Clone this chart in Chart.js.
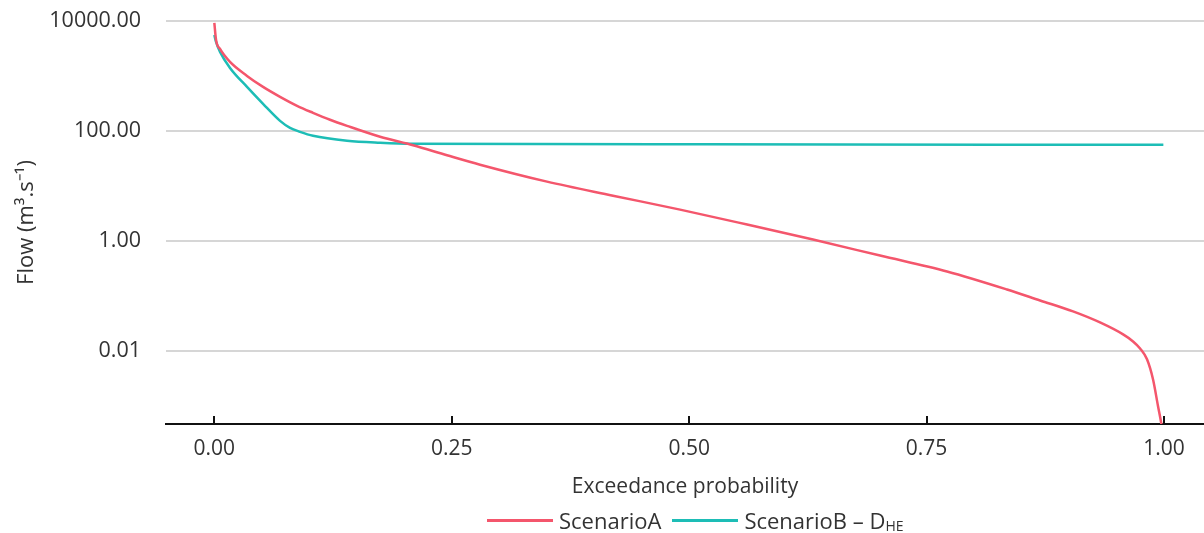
<!DOCTYPE html>
<html>
<head>
<meta charset="utf-8">
<title>Flow duration</title>
<script src="https://cdn.jsdelivr.net/npm/chart.js@4.4.1/dist/chart.umd.min.js"></script>
<style>
  body { margin: 0; background: #fff; }
  #wrap { position: relative; width: 1204px; height: 533px; overflow: hidden; }
  #legend {
    position: absolute; left: 487px; top: 504px; height: 32px;
    display: flex; align-items: center;
    font-family: "Open Sans", sans-serif; font-size: 22px; color: #333;
  }
  #legend .item { display: flex; align-items: center; margin-right: 11px; }
  #legend .swatch { width: 66px; height: 3px; margin-right: 6px; }
  #legend sub { font-size: 14px; line-height: 1; vertical-align: -2px; }
</style>
</head>
<body>
<div id="wrap">
  <canvas id="flowChart" width="1204" height="533"></canvas>
  <div id="legend"></div>
</div>
<script>
// exceedance curves
const probA = [0, 0.0018, 0.006, 0.0165, 0.0344, 0.0513, 0.0692, 0.0871, 0.1039, 0.1218, 0.1397, 0.1745,
  0.2092, 0.245, 0.2798, 0.3503, 0.4198, 0.4904, 0.561, 0.6304, 0.701, 0.7715, 0.8347, 0.8695,
  0.9042, 0.9326, 0.9569, 0.9674, 0.9748, 0.9821, 0.9884, 0.9937, 0.9969, 0.999];
const flowA = [9200, 4520, 3100, 1800, 1005, 634, 418, 287, 214, 160, 124, 78.5,
  55.0, 36.2, 24.4, 12.0, 6.67, 3.72, 1.99, 1.06, 0.543, 0.279, 0.131, 0.0828,
  0.0524, 0.033, 0.02, 0.0149, 0.0111, 0.00705, 0.00305, 0.00099, 0.000506, 0.0003];

const probB = [0, 0.0018, 0.006, 0.0165, 0.0344, 0.0513, 0.0692, 0.0797, 0.0902, 0.1039, 0.1397, 0.1745,
  0.2092, 0.5113, 0.8273, 0.9993];
const flowB = [5570, 4160, 2740, 1400, 634, 312, 153, 114, 96.6, 81.8, 66.4, 61.1,
  58.6, 57.4, 56.2, 56.2];

const seriesNames = ['ScenarioA', 'ScenarioB – D<sub>HE</sub>'];
const seriesColors = ['#f4566c', '#1dbdb6'];

const yTicks = [0.01, 1, 100, 10000];
const xTicks = [0, 0.25, 0.5, 0.75, 1];

const font = "'Open Sans', sans-serif";
const textColor = '#333';

// small tick marks pointing up into the plot
const innerTicks = {
  id: 'innerTicks',
  afterDraw(chart) {
    const x = chart.scales.x;
    const ctx = chart.ctx;
    ctx.save();
    ctx.strokeStyle = '#111';
    ctx.lineWidth = 2;
    xTicks.forEach(v => {
      const px = Math.round(x.getPixelForValue(v));
      ctx.beginPath();
      ctx.moveTo(px, chart.chartArea.bottom);
      ctx.lineTo(px, chart.chartArea.bottom - 8);
      ctx.stroke();
    });
    ctx.restore();
  }
};

const chart = new Chart(document.getElementById('flowChart'), {
  type: 'line',
  data: {
    datasets: [{
      label: 'ScenarioA',
      data: probA.map((p, i) => ({ x: p, y: flowA[i] })),
      borderColor: seriesColors[0],
      borderWidth: 2.5,
      pointRadius: 0,
      cubicInterpolationMode: 'monotone'
    }, {
      label: 'ScenarioB',
      data: probB.map((p, i) => ({ x: p, y: flowB[i] })),
      borderColor: seriesColors[1],
      borderWidth: 2.5,
      pointRadius: 0,
      cubicInterpolationMode: 'monotone'
    }]
  },
  options: {
    responsive: false,
    animation: false,
    layout: { padding: { top: 21, right: 0, bottom: 33, left: 0 } },
    plugins: { legend: { display: false }, tooltip: { enabled: false } },
    scales: {
      x: {
        type: 'linear',
        min: -0.0509,
        max: 1.0421,
        afterFit: s => { s.height = 76; s.paddingLeft = 0; s.paddingRight = 0; },
        afterBuildTicks: s => { s.ticks = xTicks.map(v => ({ value: v })); },
        grid: { display: false, drawTicks: false },
        border: { display: true, color: '#111', width: 2 },
        ticks: {
          padding: 12,
          color: textColor,
          font: { family: font, size: 21 },
          callback: v => Number(v).toFixed(2)
        },
        title: {
          display: true,
          text: 'Exceedance probability',
          color: textColor,
          font: { family: font, size: 21 },
          padding: { top: 0, bottom: 0 }
        }
      },
      y: {
        type: 'logarithmic',
        min: 0.00047,
        max: 10000,
        afterFit: s => { s.width = 166; s.paddingTop = 0; s.paddingBottom = 0; },
        afterBuildTicks: s => { s.ticks = yTicks.map(v => ({ value: v })); },
        grid: { color: '#d6d6d6', lineWidth: 2, drawTicks: false },
        border: { display: false },
        ticks: {
          padding: 25,
          color: textColor,
          font: { family: font, size: 21.5 },
          callback: v => Number(v).toFixed(2)
        },
        title: {
          display: true,
          text: 'Flow (m³.s⁻¹)',
          color: textColor,
          font: { family: font, size: 22 },
          padding: { top: 14, bottom: 0 }
        }
      }
    }
  },
  plugins: [innerTicks]
});

// legend with the subscript label
const legend = document.getElementById('legend');
seriesNames.forEach((name, i) => {
  const item = document.createElement('div');
  item.className = 'item';
  item.innerHTML = '<span class="swatch" style="background:' + seriesColors[i] + '"></span><span>' + name + '</span>';
  legend.appendChild(item);
});
</script>
</body>
</html>
